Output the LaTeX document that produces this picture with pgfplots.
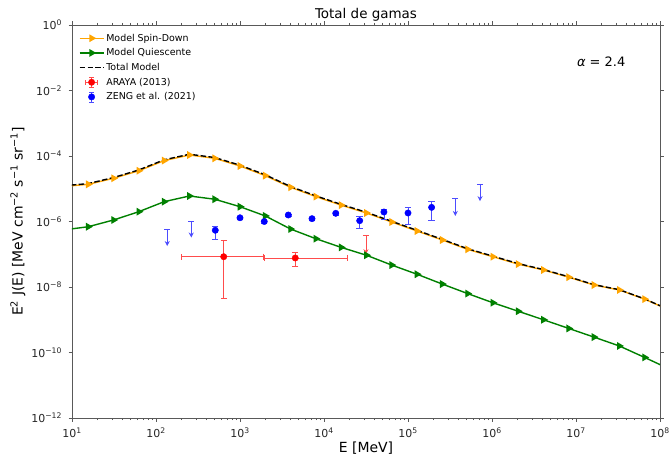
\documentclass[border=0pt]{standalone}
\usepackage{fontspec}
\setmainfont{DejaVu Sans}
\usepackage{pgfplots}
\pgfplotsset{compat=1.18}
\usetikzlibrary{arrows.meta}
\definecolor{mplorange}{RGB}{255,165,0}
\definecolor{mplgreen}{RGB}{0,128,0}
\newcommand{\pw}[1]{10\textsuperscript{#1}}
\pgfplotsset{
    marklegend/.style={legend image code/.code={\draw[mark repeat=2,mark phase=2,##1] plot coordinates {(0bp,0bp) (12bp,0bp) (24bp,0bp)};}},
    dashlegend/.style={legend image code/.code={\draw[##1] (0bp,0bp) -- (24bp,0bp);}},
    arayalegend/.style={legend image code/.code={
        \draw[red!70, line width=0.8bp] (12bp,-5bp) -- (12bp,5bp) (6bp,0bp) -- (18bp,0bp)
            (9.5bp,5bp) -- (14.5bp,5bp) (9.5bp,-5bp) -- (14.5bp,-5bp)
            (6bp,-2.5bp) -- (6bp,2.5bp) (18bp,-2.5bp) -- (18bp,2.5bp);
        \fill[red] (12bp,0bp) circle (3.2bp);}},
    zenglegend/.style={legend image code/.code={
        \draw[blue!70, line width=0.8bp] (12bp,-5bp) -- (12bp,5bp)
            (9.5bp,5bp) -- (14.5bp,5bp) (9.5bp,-5bp) -- (14.5bp,-5bp);
        \fill[blue] (12bp,0bp) circle (3.2bp);}},
}

\begin{document}
\begin{tikzpicture}
\begin{axis}[
    at={(0,0)}, anchor=south west,
    scale only axis, width=588bp, height=393bp,
    xmode=log, ymode=log,
    xmin=10, xmax=1e8, ymin=1e-12, ymax=1,
    xtick={1e1,1e2,1e3,1e4,1e5,1e6,1e7,1e8},
    xticklabels={\pw{1},\pw{2},\pw{3},\pw{4},\pw{5},\pw{6},\pw{7},\pw{8}},
    ytick={1e-12,1e-10,1e-8,1e-6,1e-4,1e-2,1},
    yticklabels={\pw{−12},\pw{−10},\pw{−8},\pw{−6},\pw{−4},\pw{−2},\pw{0}},
    minor xtick={20,30,40,50,60,70,80,90,200,300,400,500,600,700,800,900,
        2e3,3e3,4e3,5e3,6e3,7e3,8e3,9e3,2e4,3e4,4e4,5e4,6e4,7e4,8e4,9e4,
        2e5,3e5,4e5,5e5,6e5,7e5,8e5,9e5,2e6,3e6,4e6,5e6,6e6,7e6,8e6,9e6,
        2e7,3e7,4e7,5e7,6e7,7e7,8e7,9e7},
    minor ytick={},
    tick align=outside, major tick length=3.5bp, minor tick length=2bp,
    tick style={black!65, line width=0.6bp},
    axis line style={black!65, line width=0.8bp},
    tick label style={font=\fontsize{11}{13}\selectfont, text=black!85},
    xticklabel style={yshift=-3bp},
    yticklabel style={xshift=-3bp},
    xlabel={E [MeV]},
    ylabel={E\textsuperscript{2} J(E) [MeV cm\textsuperscript{−2} s\textsuperscript{−1} sr\textsuperscript{−1}]},
    label style={font=\fontsize{14}{16}\selectfont},
    xlabel style={at={(axis description cs:0.5,-0.076)}, anchor=center},
    ylabel style={at={(axis description cs:-0.092,0.5)}, anchor=center},
    title={Total de gamas},
    every axis title shift=0pt,
    title style={at={(axis description cs:0.5,1.026)}, anchor=center, font=\fontsize{13.5}{16}\selectfont},
    legend style={at={(axis description cs:0.008,0.988)}, anchor=north west,
        draw=none, fill=none, font=\fontsize{9.5}{11}\selectfont, row sep=2bp, inner sep=2bp},
    legend cell align=left,
]

% modelo spin-down
\addplot[mplorange, line width=1.4bp, mark=triangle*, mark size=3.2bp, mark options={rotate=-90}, marklegend]
    table {
        7.8125   1.175e-5
        15.625   1.365e-5
        31.25    2.089e-5
        62.5     3.548e-5
        125      7.244e-5
        250      1.072e-4
        500      8.511e-5
        1000     4.955e-5
        2000     2.512e-5
        4000     1.109e-5
        8000     5.754e-6
        16000    3.162e-6
        32000    1.820e-6
        64000    9.66e-7
        128000   5.129e-7
        256000   2.723e-7
        512000   1.413e-7
        1.024e6  8.414e-8
        2.048e6  5.012e-8
        4.096e6  3.311e-8
        8.192e6  1.995e-8
        1.6384e7 1.148e-8
        3.2768e7 8.128e-9
        6.5536e7 4.266e-9
        1.31072e8 1.950e-9
    };
\addlegendentry{Model Spin-Down}

% modelo quiescente
\addplot[mplgreen, line width=1.4bp, mark=triangle*, mark size=3.2bp, mark options={rotate=-90}, marklegend]
    table {
        7.8125   5.495e-7
        15.625   6.934e-7
        31.25    1.112e-6
        62.5     1.995e-6
        125      4.027e-6
        250      6.012e-6
        500      4.786e-6
        1000     2.831e-6
        2000     1.479e-6
        4000     5.888e-7
        8000     2.985e-7
        16000    1.622e-7
        32000    9.333e-8
        64000    4.677e-8
        128000   2.455e-8
        256000   1.230e-8
        512000   6.310e-9
        1.024e6  3.311e-9
        2.048e6  1.820e-9
        4.096e6  1.0e-9
        8.192e6  5.433e-10
        1.6384e7 2.951e-10
        3.2768e7 1.585e-10
        6.5536e7 7.079e-11
        1.31072e8 3.090e-11
    };
\addlegendentry{Model Quiescente}

% total
\addplot[black, line width=1.4bp, dash pattern=on 5.5bp off 2.4bp, dashlegend]
    table {
        7.8125   1.230e-5
        15.625   1.434e-5
        31.25    2.200e-5
        62.5     3.750e-5
        125      7.646e-5
        250      1.132e-4
        500      8.995e-5
        1000     5.236e-5
        2000     2.661e-5
        4000     1.168e-5
        8000     6.053e-6
        16000    3.327e-6
        32000    1.914e-6
        64000    1.013e-6
        128000   5.374e-7
        256000   2.846e-7
        512000   1.476e-7
        1.024e6  8.75e-8
        2.048e6  5.195e-8
        4.096e6  3.412e-8
        8.192e6  2.051e-8
        1.6384e7 1.178e-8
        3.2768e7 8.285e-9
        6.5536e7 4.335e-9
        1.31072e8 1.982e-9
    };
\addlegendentry{Total Model}

% ARAYA (2013)
\addplot[red, only marks, mark=*, mark size=3.2bp, arayalegend,
    error bars/.cd, x dir=both, x explicit, y dir=both, y explicit,
    error bar style={red!70, line width=0.8bp}]
    coordinates {
        (640, 8.41e-8) += (1250, 1.83e-7) -= (438, 7.95e-8)
        (4550, 7.7e-8) += (14600, 3.8e-8) -= (2605, 3.5e-8)
    };
\addlegendentry{ARAYA (2013)}

% ZENG et al. (2021)
\addplot[blue, only marks, mark=*, mark size=3.2bp, zenglegend,
    error bars/.cd, y dir=both, y explicit,
    error bar style={blue!70, line width=0.8bp}]
    coordinates {
        (508, 5.4e-7) += (0, 2.01e-7) -= (0, 2.52e-7)
        (1000, 1.3e-6) += (0, 1.1e-7) -= (0, 1.0e-7)
        (1945, 1.0e-6) += (0, 1.2e-7) -= (0, 1.3e-7)
        (3760, 1.58e-6) += (0, 1.2e-7) -= (0, 1.3e-7)
        (7200, 1.22e-6) += (0, 1.3e-7) -= (0, 1.4e-7)
        (13800, 1.78e-6) += (0, 1.7e-7) -= (0, 1.8e-7)
        (26600, 1.06e-6) += (0, 4.2e-7) -= (0, 4.43e-7)
        (51700, 1.95e-6) += (0, 5.0e-7) -= (0, 7.8e-7)
        (1.0e5, 1.82e-6) += (0, 8.7e-7) -= (0, 1.01e-6)
        (1.91e5, 2.7e-6) += (0, 1.47e-6) -= (0, 1.58e-6)
    };
\addlegendentry{ZENG et al. (2021)}

% limites superiores: tallo con flecha
\addplot[blue!70, mark=none, draw=none, forget plot,
    error bars/.cd, y dir=minus, y explicit, error mark=none,
    error bar style={blue!70, line width=0.8bp, -{Stealth[length=5bp,width=5bp]}}]
    coordinates {
        (136, 5.8e-7) -= (0, 4.02e-7)
        (263, 1.03e-6) -= (0, 7.06e-7)
        (3.66e5, 5.0e-6) -= (0, 3.52e-6)
        (7.2e5, 1.4e-5) -= (0, 9.83e-6)
    };
\addplot[red!70, mark=none, draw=none, forget plot,
    error bars/.cd, y dir=minus, y explicit, error mark=none,
    error bar style={red!70, line width=0.8bp, -{Stealth[length=5bp,width=5bp]}}]
    coordinates {
        (31600, 3.8e-7) -= (0, 2.8e-7)
    };
% limites superiores: tapa
\addplot[blue!70, only marks, mark=|, mark size=3bp, mark options={rotate=90, line width=0.8bp}, forget plot]
    coordinates {(136, 5.8e-7) (263, 1.03e-6) (3.66e5, 5.0e-6) (7.2e5, 1.4e-5)};
\addplot[red!70, only marks, mark=|, mark size=3bp, mark options={rotate=90, line width=0.8bp}, forget plot]
    coordinates {(31600, 3.8e-7)};

\node[font=\fontsize{13}{15}\selectfont] at (rel axis cs:0.90,0.906) {{\itshape α} = 2.4};
\end{axis}
\pgfresetboundingbox
\path[use as bounding box] (-72bp,-42bp) rectangle (597bp,418bp);
\end{tikzpicture}
\end{document}
